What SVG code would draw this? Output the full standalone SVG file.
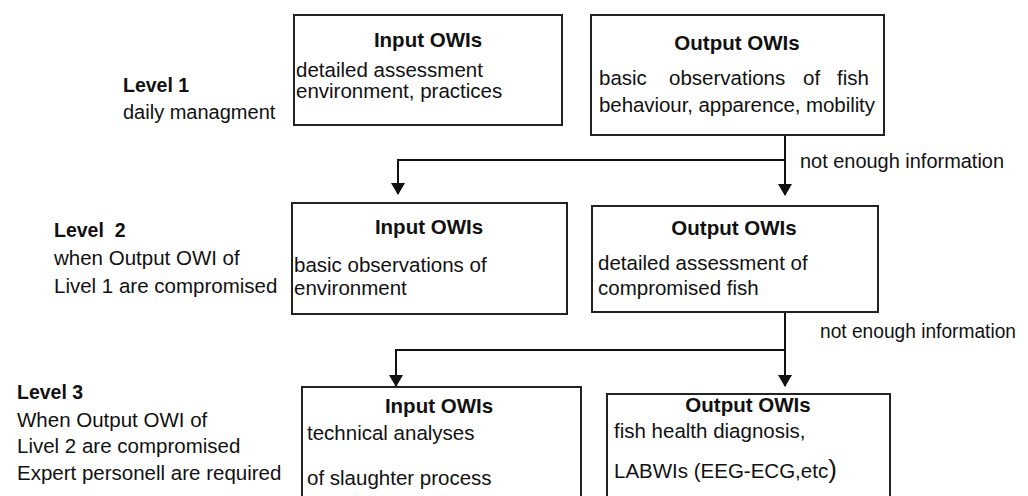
<svg xmlns="http://www.w3.org/2000/svg" width="1028" height="496" viewBox="0 0 1028 496">
<defs>
<style>
text{font-family:"Liberation Sans",Arial,sans-serif;font-size:20.5px;fill:#111}
.b{font-weight:bold}
.t{font-weight:bold;text-anchor:middle}
.box{fill:#fff;stroke:#222;stroke-width:2}
.ln{fill:none;stroke:#111;stroke-width:2}
</style>
<marker id="ah" viewBox="0 0 12 14" refX="11" refY="7" markerWidth="12" markerHeight="14" markerUnits="userSpaceOnUse" orient="auto">
<path d="M0,0 L12,7 L0,14 Z" fill="#111"/>
</marker>
</defs>
<rect width="1028" height="496" fill="#fff"/>

<g id="level1-label">
<text class="b" x="123" y="92" style="font-size:19.5px">Level 1</text>
<text x="123" y="119" style="font-size:20px">daily managment</text>
</g>
<g id="level2-label">
<text class="b" x="54" y="237" style="font-size:19.5px" xml:space="preserve">Level  2</text>
<text x="54" y="265">when Output OWI of</text>
<text x="54" y="293">Livel 1 are compromised</text>
</g>
<g id="level3-label">
<text class="b" x="17" y="399" style="font-size:19.5px">Level 3</text>
<text x="17" y="427">When Output OWI of</text>
<text x="17" y="453">Livel 2 are compromised</text>
<text x="17" y="480">Expert personell are required</text>
</g>

<g id="connectors">
<path class="ln" d="M785,135 V195" marker-end="url(#ah)"/>
<path class="ln" d="M785,160 H398 V194" marker-end="url(#ah)"/>
<path class="ln" d="M785,312 V386" marker-end="url(#ah)"/>
<path class="ln" d="M785,350 H396 V386" marker-end="url(#ah)"/>
<text x="800" y="168" textLength="204" lengthAdjust="spacingAndGlyphs">not enough information</text>
<text x="820" y="338" textLength="196" lengthAdjust="spacingAndGlyphs">not enough information</text>
</g>

<g id="l1-input">
<rect class="box" x="294" y="15" width="268" height="110"/>
<text class="t" x="428" y="47">Input OWIs</text>
<text x="296" y="77">detailed assessment</text>
<text x="296" y="98">environment, practices</text>
</g>
<g id="l1-output">
<rect class="box" x="591" y="15" width="293" height="120"/>
<text class="t" x="737" y="50">Output OWIs</text>
<text x="599" y="85">basic</text>
<text x="669" y="85">observations</text>
<text x="803" y="85">of</text>
<text x="837" y="85">fish</text>
<text x="599" y="112" textLength="276" lengthAdjust="spacing">behaviour, apparence, mobility</text>
</g>

<g id="l2-input">
<rect class="box" x="292" y="203" width="275" height="111"/>
<text class="t" x="429" y="234">Input OWIs</text>
<text x="294" y="272">basic observations of</text>
<text x="294" y="295">environment</text>
</g>
<g id="l2-output">
<rect class="box" x="592" y="206" width="286" height="106"/>
<text class="t" x="734" y="235">Output OWIs</text>
<text x="598" y="270">detailed assessment of</text>
<text x="598" y="295">compromised fish</text>
</g>

<g id="l3-input">
<rect class="box" x="302" y="387" width="279" height="120"/>
<text class="t" x="439" y="413">Input OWIs</text>
<text x="307" y="440">technical analyses</text>
<text x="307" y="485">of slaughter process</text>
</g>
<g id="l3-output">
<rect class="box" x="607" y="394" width="283" height="120"/>
<text class="t" x="748" y="412">Output OWIs</text>
<text x="614" y="438">fish health diagnosis,</text>
<text x="614" y="478">LABWIs (EEG-ECG,etc<tspan style="font-size:26px">)</tspan></text>
</g>
</svg>
